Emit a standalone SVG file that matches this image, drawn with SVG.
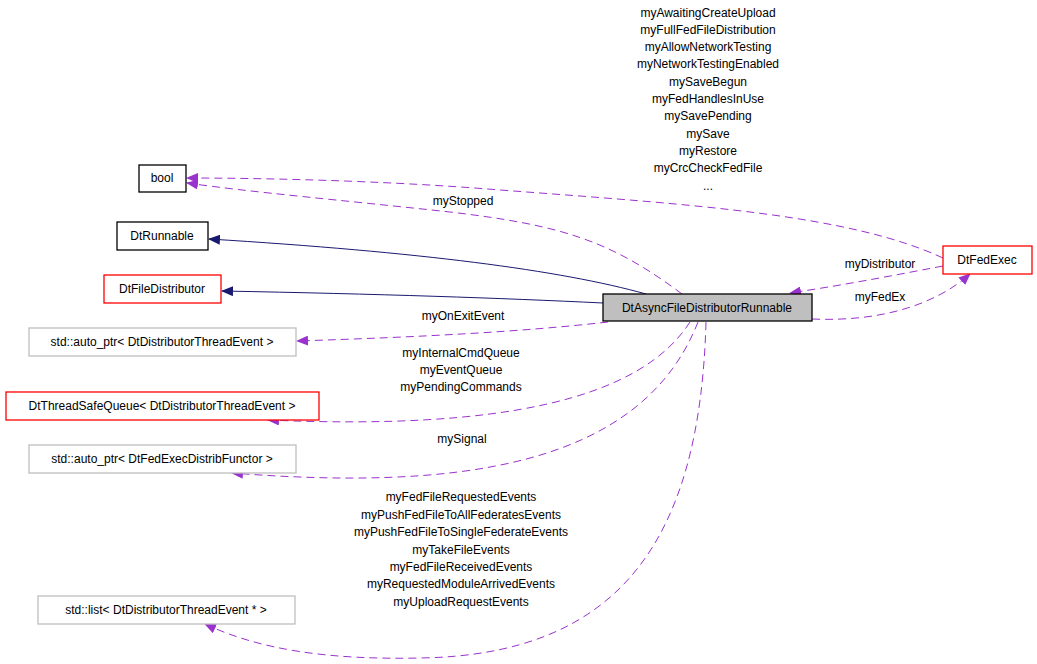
<svg xmlns="http://www.w3.org/2000/svg" width="1037" height="664" viewBox="0 0 1037 664">
<style>
text{font-family:"Liberation Sans",Arial,sans-serif;font-size:12px;fill:#000}
.n{fill:#fff;stroke-width:1.3}
.b{stroke:#000}.r{stroke:#ff0000}.g{stroke:#bfbfbf}
.d{fill:none;stroke:#9a32cd;stroke-dasharray:8,5}
.s{fill:none;stroke:#191970}
.m{text-anchor:middle}
</style>
<defs>
<marker id="pa" viewBox="0 0 12 10" refX="11" refY="5" markerWidth="12" markerHeight="10" markerUnits="userSpaceOnUse" orient="auto"><path d="M0,0L12,5L0,10z" fill="#9a32cd"/></marker>
<marker id="na" viewBox="0 0 12 10" refX="11" refY="5" markerWidth="12" markerHeight="10" markerUnits="userSpaceOnUse" orient="auto"><path d="M0,0L12,5L0,10z" fill="#191970"/></marker>
</defs>
<rect width="1037" height="664" fill="#fff"/>
<g id="connectors">
<path class="d" marker-end="url(#pa)" d="M943,258 C850,215 700,205 500,190 C380,180 250,178 187,178"/>
<path class="d" marker-end="url(#pa)" d="M682,294 C610,240 560,225 450,212 C340,200 250,192 187,183"/>
<path class="s" marker-end="url(#na)" d="M646,294 C560,270 420,252 209,239"/>
<path class="s" marker-end="url(#na)" d="M603,303 C500,298 380,294 222,291"/>
<path class="d" marker-end="url(#pa)" d="M608,322 C520,332 420,337 297,341"/>
<path class="d" marker-end="url(#pa)" d="M690,322 C640,400 500,430 268,420"/>
<path class="d" marker-end="url(#pa)" d="M698,322 C640,470 450,490 232,473"/>
<path class="d" marker-end="url(#pa)" d="M706,322 C700,540 620,655 420,658 C330,660 260,650 205,624"/>
<path class="d" marker-end="url(#pa)" d="M943,266 C890,276 850,284 790,293"/>
<path class="d" marker-end="url(#pa)" d="M812,319 C880,322 935,305 970,274"/>
</g>
<g id="labels">
<text class="m" x="708" y="17">myAwaitingCreateUpload</text>
<text class="m" x="708" y="34">myFullFedFileDistribution</text>
<text class="m" x="708" y="51">myAllowNetworkTesting</text>
<text class="m" x="708" y="68">myNetworkTestingEnabled</text>
<text class="m" x="708" y="86">mySaveBegun</text>
<text class="m" x="708" y="103">myFedHandlesInUse</text>
<text class="m" x="708" y="120">mySavePending</text>
<text class="m" x="708" y="138">mySave</text>
<text class="m" x="708" y="155">myRestore</text>
<text class="m" x="708" y="172">myCrcCheckFedFile</text>
<text class="m" x="708" y="190">...</text>
<text class="m" x="463" y="205">myStopped</text>
<text class="m" x="463" y="320">myOnExitEvent</text>
<text class="m" x="461" y="357">myInternalCmdQueue</text>
<text class="m" x="461" y="374">myEventQueue</text>
<text class="m" x="461" y="391">myPendingCommands</text>
<text class="m" x="462" y="443">mySignal</text>
<text class="m" x="461" y="501">myFedFileRequestedEvents</text>
<text class="m" x="461" y="519">myPushFedFileToAllFederatesEvents</text>
<text class="m" x="461" y="536">myPushFedFileToSingleFederateEvents</text>
<text class="m" x="461" y="554">myTakeFileEvents</text>
<text class="m" x="461" y="571">myFedFileReceivedEvents</text>
<text class="m" x="461" y="588">myRequestedModuleArrivedEvents</text>
<text class="m" x="461" y="606">myUploadRequestEvents</text>
<text class="m" x="880" y="268">myDistributor</text>
<text class="m" x="880" y="301">myFedEx</text>
</g>
<g id="bool"><rect class="n b" x="139" y="165" width="47" height="27"/><text class="m" x="162" y="182">bool</text></g>
<g id="DtRunnable"><rect class="n b" x="117" y="222" width="91" height="28"/><text class="m" x="162" y="240">DtRunnable</text></g>
<g id="DtFileDistributor"><rect class="n r" x="104" y="275" width="117" height="28"/><text class="m" x="162" y="293">DtFileDistributor</text></g>
<g id="autoptrEvent"><rect class="n g" x="29" y="328" width="267" height="28"/><text class="m" x="162" y="346">std::auto_ptr&lt; DtDistributorThreadEvent &gt;</text></g>
<g id="ThreadSafeQueue"><rect class="n r" x="6" y="392" width="313" height="28"/><text class="m" x="162" y="410">DtThreadSafeQueue&lt; DtDistributorThreadEvent &gt;</text></g>
<g id="autoptrFunctor"><rect class="n g" x="29" y="445" width="267" height="28"/><text class="m" x="162" y="463">std::auto_ptr&lt; DtFedExecDistribFunctor &gt;</text></g>
<g id="stdlist"><rect class="n g" x="38" y="596" width="257" height="28"/><text class="m" x="166" y="614">std::list&lt; DtDistributorThreadEvent * &gt;</text></g>
<g id="main"><rect x="603" y="294" width="209" height="27" fill="#bfbfbf" stroke="#000" stroke-width="1.3"/><text class="m" x="707" y="312">DtAsyncFileDistributorRunnable</text></g>
<g id="DtFedExec"><rect class="n r" x="943" y="246" width="89" height="28"/><text class="m" x="987" y="264">DtFedExec</text></g>
</svg>
